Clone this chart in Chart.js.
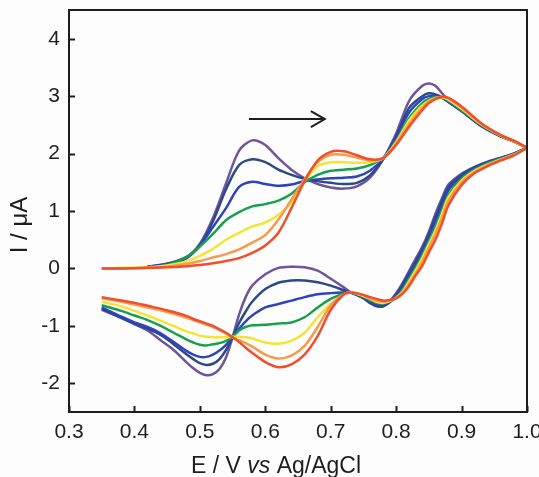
<!DOCTYPE html>
<html>
<head>
<meta charset="utf-8">
<script src="https://cdn.jsdelivr.net/npm/chart.js@4.4.1/dist/chart.umd.min.js"></script>
<style>
  html, body { margin: 0; padding: 0; background: #fdfdfe; }
  #wrap { width: 539px; height: 477px; position: relative; }
</style>
</head>
<body>
<div id="wrap"><canvas id="cv"></canvas></div>
<script>
// Potential grids (V vs Ag/AgCl) for the forward and reverse sweeps
const forwardE = [0.35, 0.38, 0.42, 0.45, 0.48, 0.50, 0.52, 0.54, 0.56, 0.58, 0.60, 0.62, 0.64, 0.66, 0.68, 0.70,
                  0.72, 0.74, 0.76, 0.78, 0.80, 0.82, 0.84, 0.85, 0.86, 0.87, 0.88, 0.90, 0.93, 0.96, 0.98, 1.00];
const reverseE = [1.00, 0.98, 0.96, 0.94, 0.92, 0.90, 0.88, 0.87, 0.86, 0.85, 0.84, 0.83, 0.82, 0.81, 0.80, 0.79,
                  0.78, 0.77, 0.76, 0.75, 0.74, 0.73, 0.72, 0.70, 0.68, 0.66, 0.64, 0.62, 0.60, 0.58, 0.57, 0.56,
                  0.55, 0.54, 0.53, 0.52, 0.51, 0.50, 0.49, 0.48, 0.46, 0.44, 0.42, 0.40, 0.38, 0.35];

// Currents (uA)
const purpleFwd = [null, null, 0.03, 0.08, 0.2, 0.43, 0.88, 1.48, 2.05, 2.23, 2.15, 1.92, 1.72, 1.57, 1.47, 1.41,
                   1.39, 1.43, 1.58, 1.9, 2.35, 2.92, 3.18, 3.22, 3.18, 3.05, 2.93, 2.75, 2.48, 2.3, 2.22, 2.1];
const purpleRev = [2.1, 2.0, 1.93, 1.86, 1.77, 1.65, 1.46, 1.22, 0.95, 0.64, 0.38, 0.17, -0.04, -0.25, -0.43, -0.57,
                   -0.66, -0.66, -0.6, -0.52, -0.46, -0.41, -0.33, -0.18, -0.04, 0.02, 0.03, 0.01, -0.1, -0.3, -0.5, -0.8,
                   -1.2, -1.55, -1.75, -1.84, -1.86, -1.82, -1.74, -1.64, -1.42, -1.25, -1.08, -0.97, -0.86, -0.72];

const navyFwd = [null, null, 0.03, 0.08, 0.2, 0.4, 0.82, 1.38, 1.8, 1.9, 1.85, 1.72, 1.63, 1.56, 1.52, 1.49,
                 1.47, 1.49, 1.62, 1.9, 2.3, 2.8, 3.0, 3.05, 3.03, 2.98, 2.9, 2.74, 2.48, 2.3, 2.21, 2.1];
const navyRev = [2.1, 2.0, 1.92, 1.85, 1.76, 1.63, 1.42, 1.17, 0.9, 0.6, 0.34, 0.12, -0.08, -0.28, -0.46, -0.59,
                 -0.66, -0.65, -0.6, -0.52, -0.46, -0.42, -0.38, -0.3, -0.24, -0.21, -0.21, -0.25, -0.36, -0.58, -0.75, -0.95,
                 -1.2, -1.42, -1.58, -1.66, -1.68, -1.65, -1.58, -1.5, -1.32, -1.16, -1.05, -0.96, -0.86, -0.7];

const blueFwd = [null, null, 0.03, 0.07, 0.18, 0.4, 0.72, 1.05, 1.42, 1.51, 1.47, 1.44, 1.46, 1.52, 1.55, 1.57,
                 1.58, 1.6, 1.7, 1.91, 2.28, 2.72, 2.95, 3.0, 3.0, 2.97, 2.9, 2.74, 2.49, 2.3, 2.21, 2.1];
const blueRev = [2.1, 2.0, 1.92, 1.84, 1.74, 1.6, 1.36, 1.1, 0.82, 0.55, 0.3, 0.08, -0.12, -0.32, -0.48, -0.59,
                 -0.64, -0.63, -0.58, -0.51, -0.46, -0.42, -0.42, -0.43, -0.45, -0.5, -0.56, -0.62, -0.68, -0.82, -0.92, -1.05,
                 -1.2, -1.33, -1.43, -1.5, -1.54, -1.54, -1.5, -1.44, -1.28, -1.13, -1.02, -0.94, -0.84, -0.68];

const greenFwd = [null, null, 0.02, 0.06, 0.2, 0.38, 0.6, 0.84, 0.98, 1.08, 1.12, 1.18, 1.3, 1.5, 1.63, 1.7,
                  1.72, 1.74, 1.8, 1.92, 2.22, 2.62, 2.88, 2.95, 2.98, 2.97, 2.92, 2.76, 2.5, 2.31, 2.21, 2.1];
const greenRev = [2.1, 1.99, 1.91, 1.83, 1.72, 1.56, 1.28, 1.0, 0.72, 0.47, 0.23, 0.02, -0.18, -0.37, -0.5, -0.58,
                  -0.61, -0.6, -0.55, -0.49, -0.45, -0.42, -0.44, -0.53, -0.68, -0.85, -0.94, -0.96, -0.98, -0.99, -1.02, -1.08,
                  -1.19, -1.26, -1.3, -1.32, -1.34, -1.33, -1.29, -1.24, -1.12, -1.0, -0.9, -0.82, -0.74, -0.64];

const yellowFwd = [0, 0.01, 0.02, 0.05, 0.12, 0.22, 0.34, 0.5, 0.62, 0.73, 0.8, 0.93, 1.15, 1.52, 1.78, 1.85,
                   1.85, 1.84, 1.85, 1.92, 2.2, 2.58, 2.84, 2.92, 2.97, 2.98, 2.94, 2.78, 2.51, 2.31, 2.21, 2.1];
const yellowRev = [2.1, 1.98, 1.9, 1.81, 1.7, 1.53, 1.24, 0.95, 0.66, 0.42, 0.18, -0.03, -0.22, -0.4, -0.51, -0.57,
                   -0.6, -0.58, -0.53, -0.48, -0.44, -0.42, -0.45, -0.62, -0.85, -1.12, -1.26, -1.31, -1.29, -1.22, -1.2, -1.19,
                   -1.19, -1.2, -1.2, -1.2, -1.19, -1.17, -1.13, -1.1, -1.0, -0.91, -0.82, -0.74, -0.66, -0.58];

const orangeFwd = [0, 0, 0.01, 0.03, 0.08, 0.13, 0.19, 0.25, 0.33, 0.45, 0.58, 0.85, 1.2, 1.55, 1.85, 1.98,
                   1.98, 1.93, 1.88, 1.92, 2.18, 2.52, 2.8, 2.9, 2.96, 2.99, 2.96, 2.8, 2.52, 2.32, 2.22, 2.1];
const orangeRev = [2.1, 1.98, 1.89, 1.8, 1.68, 1.5, 1.18, 0.88, 0.6, 0.36, 0.12, -0.08, -0.26, -0.42, -0.52, -0.56,
                   -0.58, -0.56, -0.52, -0.47, -0.44, -0.42, -0.45, -0.64, -1.02, -1.35, -1.52, -1.57, -1.5, -1.36, -1.3, -1.25,
                   -1.2, -1.13, -1.07, -1.02, -0.98, -0.94, -0.9, -0.86, -0.79, -0.73, -0.68, -0.63, -0.58, -0.52];

const redFwd = [0, 0, 0.01, 0.02, 0.04, 0.06, 0.09, 0.13, 0.18, 0.27, 0.4, 0.62, 1.05, 1.52, 1.88, 2.03,
                2.04, 1.97, 1.9, 1.92, 2.15, 2.47, 2.76, 2.88, 2.95, 2.99, 2.97, 2.82, 2.53, 2.32, 2.22, 2.1];
const redRev = [2.1, 1.97, 1.88, 1.78, 1.66, 1.45, 1.1, 0.78, 0.5, 0.28, 0.05, -0.12, -0.3, -0.44, -0.52, -0.55,
                -0.56, -0.53, -0.5, -0.46, -0.43, -0.42, -0.45, -0.72, -1.18, -1.5, -1.67, -1.72, -1.63, -1.47, -1.38, -1.28,
                -1.2, -1.12, -1.06, -1.0, -0.96, -0.92, -0.88, -0.83, -0.76, -0.7, -0.65, -0.6, -0.56, -0.5];

// Tick labels
const xTickValues = [0.3, 0.4, 0.5, 0.6, 0.7, 0.8, 0.9, 1.0];
const yTickValues = [-2, -1, 0, 1, 2, 3, 4];

// Sweep direction arrow (E start, E end, I)
const arrowE = [0.575, 0.691];
const arrowI = 2.6;

const curves = [
    { fwd: purpleFwd, rev: purpleRev, color: '#6e559c' },
    { fwd: navyFwd,   rev: navyRev,   color: '#2c4a87' },
    { fwd: blueFwd,   rev: blueRev,   color: '#2f43bb' },
    { fwd: greenFwd,  rev: greenRev,  color: '#17a04c' },
    { fwd: yellowFwd, rev: yellowRev, color: '#f4e535' },
    { fwd: orangeFwd, rev: orangeRev, color: '#f79a4c' },
    { fwd: redFwd,    rev: redRev,    color: '#ef4f2a' }
];

const datasets = curves.map((c, i) => ({
    data: forwardE.map((e, k) => ({ x: e, y: c.fwd[k] }))
        .concat(reverseE.map((e, k) => ({ x: e, y: c.rev[k] }))),
    borderColor: c.color,
    borderWidth: 2.5,
    pointRadius: 0,
    showLine: true,
    fill: false,
    tension: 0.3,
    spanGaps: false,
    order: curves.length - i   // red drawn last, on top
}));

const FONT = '"Liberation Sans", Arial, Helvetica, sans-serif';

// frame, inward ticks, arrow and axis titles
const decor = {
    id: 'decor',
    beforeDraw(chart) {
        const c = chart.ctx;
        c.save();
        c.fillStyle = '#fdfdfe';
        c.fillRect(0, 0, chart.width, chart.height);
        c.restore();
    },
    afterDatasetsDraw(chart) {
        const c = chart.ctx;
        const a = chart.chartArea;
        const xs = chart.scales.x, ys = chart.scales.y;
        c.save();
        c.strokeStyle = '#1e1e1e';
        c.lineWidth = 2;
        c.strokeRect(a.left, a.top, a.right - a.left, a.bottom - a.top);

        // inward ticks
        c.beginPath();
        xTickValues.forEach(v => {
            const px = Math.round(xs.getPixelForValue(v)) + 0.5;
            c.moveTo(px, a.bottom);
            c.lineTo(px, a.bottom - 6);
        });
        yTickValues.forEach(v => {
            const py = Math.round(ys.getPixelForValue(v)) + 0.5;
            c.moveTo(a.left, py);
            c.lineTo(a.left + 6, py);
        });
        c.stroke();

        // arrow
        const x0 = xs.getPixelForValue(arrowE[0]);
        const x1 = xs.getPixelForValue(arrowE[1]);
        const y = ys.getPixelForValue(arrowI);
        c.lineWidth = 2;
        c.beginPath();
        c.moveTo(x0, y);
        c.lineTo(x1, y);
        c.moveTo(x1 - 14, y - 8);
        c.lineTo(x1, y);
        c.lineTo(x1 - 14, y + 8);
        c.stroke();

        // x title with italic "vs"
        c.fillStyle = '#1e1e1e';
        c.textBaseline = 'alphabetic';
        const parts = [
            { t: 'E / V ', f: '23px ' + FONT },
            { t: 'vs', f: 'italic 23px ' + FONT },
            { t: ' Ag/AgCl', f: '23px ' + FONT }
        ];
        let total = 0;
        parts.forEach(p => { c.font = p.f; p.w = c.measureText(p.t).width; total += p.w; });
        let tx = 276 - total / 2;
        parts.forEach(p => { c.font = p.f; c.fillText(p.t, tx, 473); tx += p.w; });

        // y title
        c.font = '24px ' + FONT;
        c.textAlign = 'center';
        c.translate(27, 225);
        c.rotate(-Math.PI / 2);
        c.fillText('I / \u03bcA', 0, 0);
        c.restore();
    }
};

new Chart(document.getElementById('cv'), {
    type: 'scatter',
    data: { datasets },
    options: {
        responsive: true,
        maintainAspectRatio: false,
        animation: false,
        layout: { padding: { top: 10, right: 12, left: 0, bottom: 0 } },
        plugins: { legend: { display: false }, tooltip: { enabled: false } },
        scales: {
            x: {
                type: 'linear',
                min: 0.3,
                max: 1.0,
                grid: { display: false, drawTicks: false },
                border: { display: false },
                afterBuildTicks: s => { s.ticks = xTickValues.map(v => ({ value: v })); },
                afterFit: s => { s.height = 65; s.paddingLeft = 0; s.paddingRight = 0; },
                ticks: {
                    autoSkip: false,
                    maxRotation: 0,
                    padding: 8,
                    color: '#1e1e1e',
                    font: { size: 21, family: FONT },
                    callback: v => Number(v).toFixed(1)
                }
            },
            y: {
                type: 'linear',
                min: -2.5,
                max: 4.5,
                grid: { display: false, drawTicks: false },
                border: { display: false },
                afterBuildTicks: s => { s.ticks = yTickValues.map(v => ({ value: v })); },
                afterFit: s => { s.width = 69; s.paddingTop = 0; s.paddingBottom = 0; },
                ticks: {
                    padding: 9,
                    color: '#1e1e1e',
                    font: { size: 21, family: FONT },
                    callback: v => String(v)
                }
            }
        }
    },
    plugins: [decor]
});
</script>
</body>
</html>
